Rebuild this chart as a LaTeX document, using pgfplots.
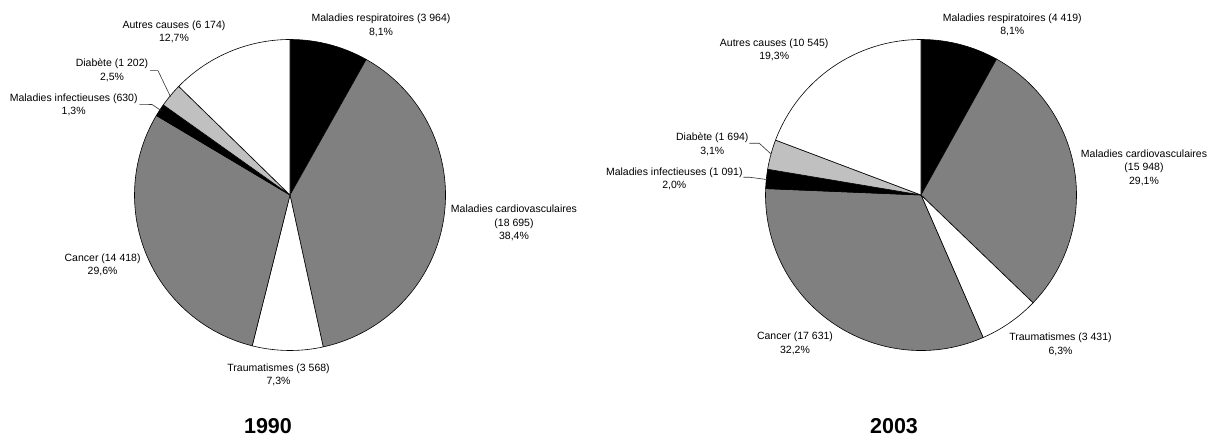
\documentclass[border=0pt]{standalone}
\usepackage{fontspec}
\setmainfont{Liberation Sans}
\usepackage{pgfplots}
\usepackage{pgfplotstable}
\pgfplotsset{compat=1.18}
\definecolor{piegray}{HTML}{808080}
\definecolor{pielight}{HTML}{C0C0C0}

% 1990
\pgfplotstableread{
cause value col
resp 3964 black
cardio 18695 piegray
traum 3568 white
cancer 14418 piegray
infect 630 black
diab 1202 pielight
autres 6174 white
}\dataA
% 2003
\pgfplotstableread{
cause value col
resp 4419 black
cardio 15948 piegray
traum 3431 white
cancer 17631 piegray
infect 1091 black
diab 1694 pielight
autres 10545 white
}\dataB

\newcommand\pieprep[2]{%
  \xdef\pietot{0}%
  \foreach \i in {0,...,6}{%
    \pgfplotstablegetelem{\i}{value}\of{#1}%
    \xdef\pietot{\fpeval{\pietot+\pgfplotsretval}}}%
  \xdef\piecum{0}%
  \foreach \i in {0,...,6}{%
    \pgfplotstablegetelem{\i}{value}\of{#1}%
    \edef\v{\pgfplotsretval}%
    \expandafter\xdef\csname #2start\i\endcsname{\fpeval{90-360*\piecum/\pietot}}%
    \xdef\piecum{\fpeval{\piecum+\v}}%
    \expandafter\xdef\csname #2end\i\endcsname{\fpeval{90-360*\piecum/\pietot}}%
    \pgfplotstablegetelem{\i}{col}\of{#1}%
    \expandafter\xdef\csname #2col\i\endcsname{\pgfplotsretval}}%
}
\pieprep{\dataA}{A}
\pieprep{\dataB}{B}

\newcommand\drawpie[4]{%
  \pgfplotsinvokeforeach{0,...,6}{%
    \edef\temp{\noexpand\filldraw[fill=\csname #1col##1\endcsname, draw=black, line width=0.6pt, line join=round]
      (axis cs:#2,#3) -- ++(\csname #1start##1\endcsname:#4pt)
      arc[start angle=\csname #1start##1\endcsname, end angle=\csname #1end##1\endcsname, radius=#4pt] -- cycle;}%
    \temp}%
}
\newcommand\lbl{\fontsize{10.5}{13.5}\selectfont}
\newcommand\ttl{\fontsize{21.5}{24}\selectfont\bfseries}

\begin{document}
\begin{tikzpicture}
\begin{axis}[at={(0pt,0pt)}, anchor=south west,
  width=1207pt, height=437pt, scale only axis,
  xmin=0, xmax=1207, ymin=0, ymax=437,
  hide axis, clip=false]
\drawpie{A}{290}{242}{155.5}
\drawpie{B}{921}{242}{155.5}

% 1990 labels
\node[align=center,font=\lbl] at (axis cs:381,411.5) {Maladies respiratoires (3 964)\\8,1\%};
\node[align=center,font=\lbl] at (axis cs:514,214) {Maladies cardiovasculaires\\(18 695)\\38,4\%};
\node[align=center,font=\lbl] at (axis cs:278.6,62) {Traumatismes (3 568)\\7,3\%};
\node[align=center,font=\lbl] at (axis cs:102.6,172) {Cancer (14 418)\\29,6\%};
\node[align=center,font=\lbl] at (axis cs:73.7,332.3) {Maladies infectieuses (630)\\1,3\%};
\node[align=center,font=\lbl] at (axis cs:112,366.5) {Diabète (1 202)\\2,5\%};
\node[align=center,font=\lbl] at (axis cs:174,405.3) {Autres causes (6 174)\\12,7\%};
\draw[line width=0.6pt, black!80] (axis cs:150,366.3) -- (axis cs:158,366.3) -- (axis cs:170.5,340.3);
\draw[line width=0.6pt, black!80] (axis cs:139.5,332.7) -- (axis cs:152,332.5) -- (axis cs:161,326.5);
\node[font=\ttl, inner sep=0pt] at (axis cs:268,11) {1990};

% 2003 labels
\node[align=center,font=\lbl] at (axis cs:1012.3,412) {Maladies respiratoires (4 419)\\8,1\%};
\node[align=center,font=\lbl] at (axis cs:1144,269.5) {Maladies cardiovasculaires\\(15 948)\\29,1\%};
\node[align=center,font=\lbl] at (axis cs:1060.5,92.5) {Traumatismes (3 431)\\6,3\%};
\node[align=center,font=\lbl] at (axis cs:795,93.6) {Cancer (17 631)\\32,2\%};
\node[align=center,font=\lbl] at (axis cs:674.3,258.3) {Maladies infectieuses (1 091)\\2,0\%};
\node[align=center,font=\lbl] at (axis cs:712.3,292.5) {Diabète (1 694)\\3,1\%};
\node[align=center,font=\lbl] at (axis cs:774.2,387.3) {Autres causes (10 545)\\19,3\%};
\draw[line width=0.6pt, black!80] (axis cs:749.3,293.7) -- (axis cs:759.3,293.7) -- (axis cs:771,283);
\draw[line width=0.6pt, black!80] (axis cs:743.3,259.7) -- (axis cs:750,259.7) -- (axis cs:766.5,257.5);
\node[font=\ttl, inner sep=0pt] at (axis cs:894,11) {2003};
\end{axis}
\pgfresetboundingbox
\path (0,0) rectangle (1207pt,437pt);
\end{tikzpicture}
\end{document}
